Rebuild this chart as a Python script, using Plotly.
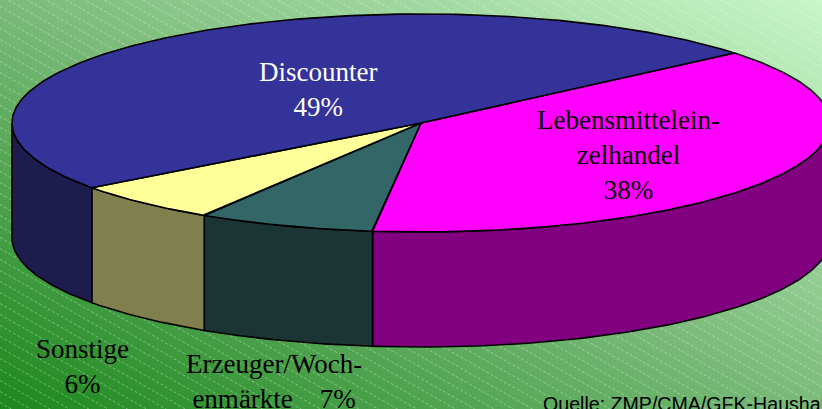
import numpy as np
import plotly.graph_objects as go

# ---- data ----
slice_names = ["Lebensmitteleinzelhandel", "Erzeuger/Wochenmärkte", "Sonstige", "Discounter"]
slice_labels = ["Lebensmittelein-<br>zelhandel<br>38%",
                "Erzeuger/Woch-<br>enmärkte\u00a0\u00a0\u00a0\u00a07%",
                "Sonstige<br>6%",
                "Discounter<br>49%"]
slice_values = [38, 7, 6, 49]
top_colors = ["#ff00ff", "#336666", "#ffff99", "#333399"]
side_colors = ["#800080", "#1b3434", "#80804e", "#1c1c4e"]
label_colors = ["black", "black", "black", "white"]
source_text = "Quelle: ZMP/CMA/GFK-Haushaltspanel"

# ---- layout / geometry constants (pixel space) ----
W, H = 822, 409
CX, CY, RX, RY, DEPTH = 421, 123, 409, 109, 115
START_DEG = 40.0
label_pos = [(628, 155), (274, 381), (82, 366), (318, 89)]

fig = go.Figure()

# background gradient
gx = np.linspace(0, W, 60)
gy = np.linspace(0, H, 30)
GX, GY = np.meshgrid(gx, gy)
GZ = (GX / W + (H - GY) / H) / 2
fig.add_trace(go.Heatmap(x=gx, y=gy, z=GZ, zsmooth="best", showscale=False,
                         hoverinfo="skip",
                         colorscale=[[0, "#1c881c"], [0.5, "#7aba7a"], [1, "#c8f6c8"]]))

# diagonal dashed hatch
slope = 0.57
hx, hy = [], []
for c in np.arange(-W * slope - 20, H + 20, 11):
    hx += [0, W, None]
    hy += [c, c + slope * W, None]
fig.add_trace(go.Scatter(x=hx, y=hy, mode="lines", hoverinfo="skip",
                         line=dict(color="rgba(255,255,255,0.35)", width=1, dash="3px,2px")))

# angles
total = sum(slice_values)
bounds = []
a = START_DEG
for v in slice_values:
    b = a - v / total * 360.0
    bounds.append((a, b))
    a = b


def px(t):
    return CX + RX * np.cos(np.radians(t))


def py(t):
    return CY - RY * np.sin(np.radians(t))


# sides (front half only)
for (a0, a1), col in zip(bounds, side_colors):
    for k in (-360, 0, 360):
        lo = max(a1, -180 + k)
        hi = min(a0, 0 + k)
        if hi > lo:
            t = np.linspace(lo, hi, 120)
            xs = np.concatenate([px(t), px(t[::-1])])
            ys = np.concatenate([py(t), py(t[::-1]) + DEPTH])
            fig.add_trace(go.Scatter(x=np.append(xs, xs[0]), y=np.append(ys, ys[0]),
                                     mode="lines", fill="toself", fillcolor=col,
                                     line=dict(color="black", width=1.6), hoverinfo="skip"))

# tops
for (a0, a1), col, nm in zip(bounds, top_colors, slice_names):
    t = np.linspace(a0, a1, 240)
    xs = np.concatenate([[CX], px(t), [CX]])
    ys = np.concatenate([[CY], py(t), [CY]])
    fig.add_trace(go.Scatter(x=xs, y=ys, mode="lines", fill="toself", fillcolor=col,
                             name=nm, line=dict(color="black", width=1.6), hoverinfo="name"))

ann = []
for lab, (lx, ly), c in zip(slice_labels, label_pos, label_colors):
    ann.append(dict(x=lx, y=ly, text=lab, showarrow=False, xanchor="center", yanchor="middle",
                    align="center", font=dict(family="Liberation Serif, Times New Roman, serif",
                                              size=27, color=c)))
ann.append(dict(x=541, y=404, text=source_text, showarrow=False, xanchor="left", yanchor="middle",
                font=dict(family="Liberation Sans, Arial, sans-serif", size=19.6, color="black")))

fig.update_layout(width=W, height=H, margin=dict(l=0, r=0, t=0, b=0),
                  showlegend=False, plot_bgcolor="white", paper_bgcolor="white",
                  xaxis=dict(range=[0, W], visible=False, fixedrange=True),
                  yaxis=dict(range=[H, 0], visible=False, fixedrange=True),
                  annotations=ann)

fig.write_html("out.html", config={"displayModeBar": False},
               post_script="document.body.style.margin='0';document.body.style.overflow='hidden';")
